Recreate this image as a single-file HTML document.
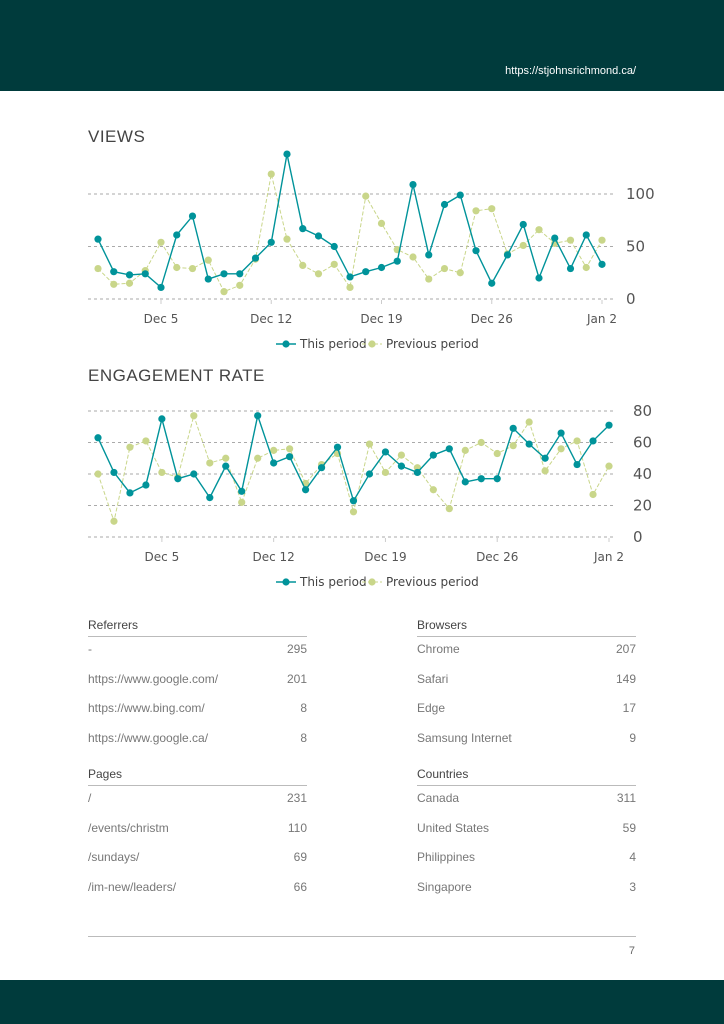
<!DOCTYPE html>
<html><head><meta charset="utf-8"><style>
body{margin:0;width:724px;height:1024px;position:relative;background:#fff;font-family:"Liberation Sans",sans-serif;overflow:hidden}
.hdr{position:absolute;left:0;top:0;width:724px;height:91px;background:#003b3c}
.url{position:absolute;right:88px;top:65px;color:#fff;font-size:11px}
.ftr{position:absolute;left:0;top:980px;width:724px;height:44px;background:#003b3c}
.title{position:absolute;left:88px;font-size:17px;color:#444;letter-spacing:0.5px}
svg{position:absolute;left:0;top:0}
.tbl{position:absolute;width:219px;font-size:12px;color:#555}
.tbl .h{line-height:11px;color:#444;border-bottom:1px solid #bbb;margin-bottom:6px;height:17px;box-sizing:border-box;font-size:12px}
.tbl .r{display:flex;justify-content:space-between;height:29.6px;line-height:13px;color:#777}
.pg{position:absolute;left:88px;top:936px;width:548px;border-top:1px solid #bbb}
.num{position:absolute;right:89px;top:945px;font-size:11px;color:#666}
</style></head><body>
<div class="hdr"><div class="url">https://stjohnsrichmond.ca/</div></div>
<div class="title" style="top:127px">VIEWS</div>
<div class="title" style="top:366px">ENGAGEMENT RATE</div>
<svg id="s" width="724" height="1024"></svg>
<div class="tbl" style="left:88px;top:620px"><div class="h">Referrers</div>
<div class="r"><span>-</span><span>295</span></div><div class="r"><span>https://www.google.com/</span><span>201</span></div><div class="r"><span>https://www.bing.com/</span><span>8</span></div><div class="r"><span>https://www.google.ca/</span><span>8</span></div></div>
<div class="tbl" style="left:417px;top:620px"><div class="h">Browsers</div>
<div class="r"><span>Chrome</span><span>207</span></div><div class="r"><span>Safari</span><span>149</span></div><div class="r"><span>Edge</span><span>17</span></div><div class="r"><span>Samsung Internet</span><span>9</span></div></div>
<div class="tbl" style="left:88px;top:769px"><div class="h">Pages</div>
<div class="r"><span>/</span><span>231</span></div><div class="r"><span>/events/christm</span><span>110</span></div><div class="r"><span>/sundays/</span><span>69</span></div><div class="r"><span>/im-new/leaders/</span><span>66</span></div></div>
<div class="tbl" style="left:417px;top:769px"><div class="h">Countries</div>
<div class="r"><span>Canada</span><span>311</span></div><div class="r"><span>United States</span><span>59</span></div><div class="r"><span>Philippines</span><span>4</span></div><div class="r"><span>Singapore</span><span>3</span></div></div>
<div class="pg"></div><div class="num">7</div>
<div class="ftr"></div>
<script>
var T='#00939a',P='#c9d68a',s='';
function chart(x0,x1,y0,sc,ticks,tickX,a,b,labY,legY){
 var st=(x1-x0)/32;
 ticks.forEach(function(t){var y=y0-t*sc;s+='<line x1="88" x2="614" y1="'+y+'" y2="'+y+'" stroke="#aaa" stroke-dasharray="3,3" stroke-width="1"/>';
  s+='<text x="'+tickX+'" y="'+(y+5)+'" font-size="15" fill="#555" font-family="DejaVu Sans,sans-serif">'+t+'</text>';});
 [['Dec 5',4],['Dec 12',11],['Dec 19',18],['Dec 26',25],['Jan 2',32]].forEach(function(d){var x=x0+d[1]*st;
  s+='<line x1="'+x+'" x2="'+x+'" y1="'+(y0+1)+'" y2="'+(y0+5)+'" stroke="#ccc"/>';
  s+='<text x="'+x+'" y="'+labY+'" font-size="12" fill="#555" text-anchor="middle" font-family="DejaVu Sans,sans-serif">'+d[0]+'</text>';});
 function ser(v,c,dash,r){var p=v.map(function(q,i){return (x0+i*st).toFixed(1)+','+(y0-q*sc).toFixed(1)}).join(' ');
  s+='<polyline points="'+p+'" fill="none" stroke="'+c+'" stroke-width="'+(dash?1:1.4)+'"'+(dash?' stroke-dasharray="4,2"':'')+'/>';
  v.forEach(function(q,i){s+='<circle cx="'+(x0+i*st)+'" cy="'+(y0-q*sc)+'" r="'+r+'" fill="'+c+'"/>'});}
 ser(b,P,1,3.6);ser(a,T,0,3.6);
 s+='<line x1="276" x2="296" y1="'+legY+'" y2="'+legY+'" stroke="'+T+'" stroke-width="1.4"/><circle cx="286" cy="'+legY+'" r="3.6" fill="'+T+'"/>';
 s+='<text x="300" y="'+(legY+4)+'" font-size="12" fill="#444" font-family="DejaVu Sans,sans-serif">This period</text>';
 s+='<line x1="362" x2="382" y1="'+legY+'" y2="'+legY+'" stroke="'+P+'" stroke-dasharray="4,2"/><circle cx="372" cy="'+legY+'" r="3.6" fill="'+P+'"/>';
 s+='<text x="386" y="'+(legY+4)+'" font-size="12" fill="#444" font-family="DejaVu Sans,sans-serif">Previous period</text>';
}
chart(98,602,299,1.05,[0,50,100],626,
[57,26,23,24,11,61,79,19,24,24,39,54,138,67,60,50,21,26,30,36,109,42,90,99,46,15,42,71,20,58,29,61,33],
[29,14,15,27,54,30,29,37,7,13,38,119,57,32,24,33,11,98,72,47,40,19,29,25,84,86,43,51,66,53,56,30,56],323,344);
chart(98,609,537,1.575,[0,20,40,60,80],633,
[63,41,28,33,75,37,40,25,45,29,77,47,51,30,44,57,23,40,54,45,41,52,56,35,37,37,69,59,50,66,46,61,71],
[40,10,57,61,41,38,77,47,50,22,50,55,56,34,46,53,16,59,41,52,44,30,18,55,60,53,58,73,42,56,61,27,45],561,582);
document.getElementById('s').innerHTML=s;
</script>
</body></html>
